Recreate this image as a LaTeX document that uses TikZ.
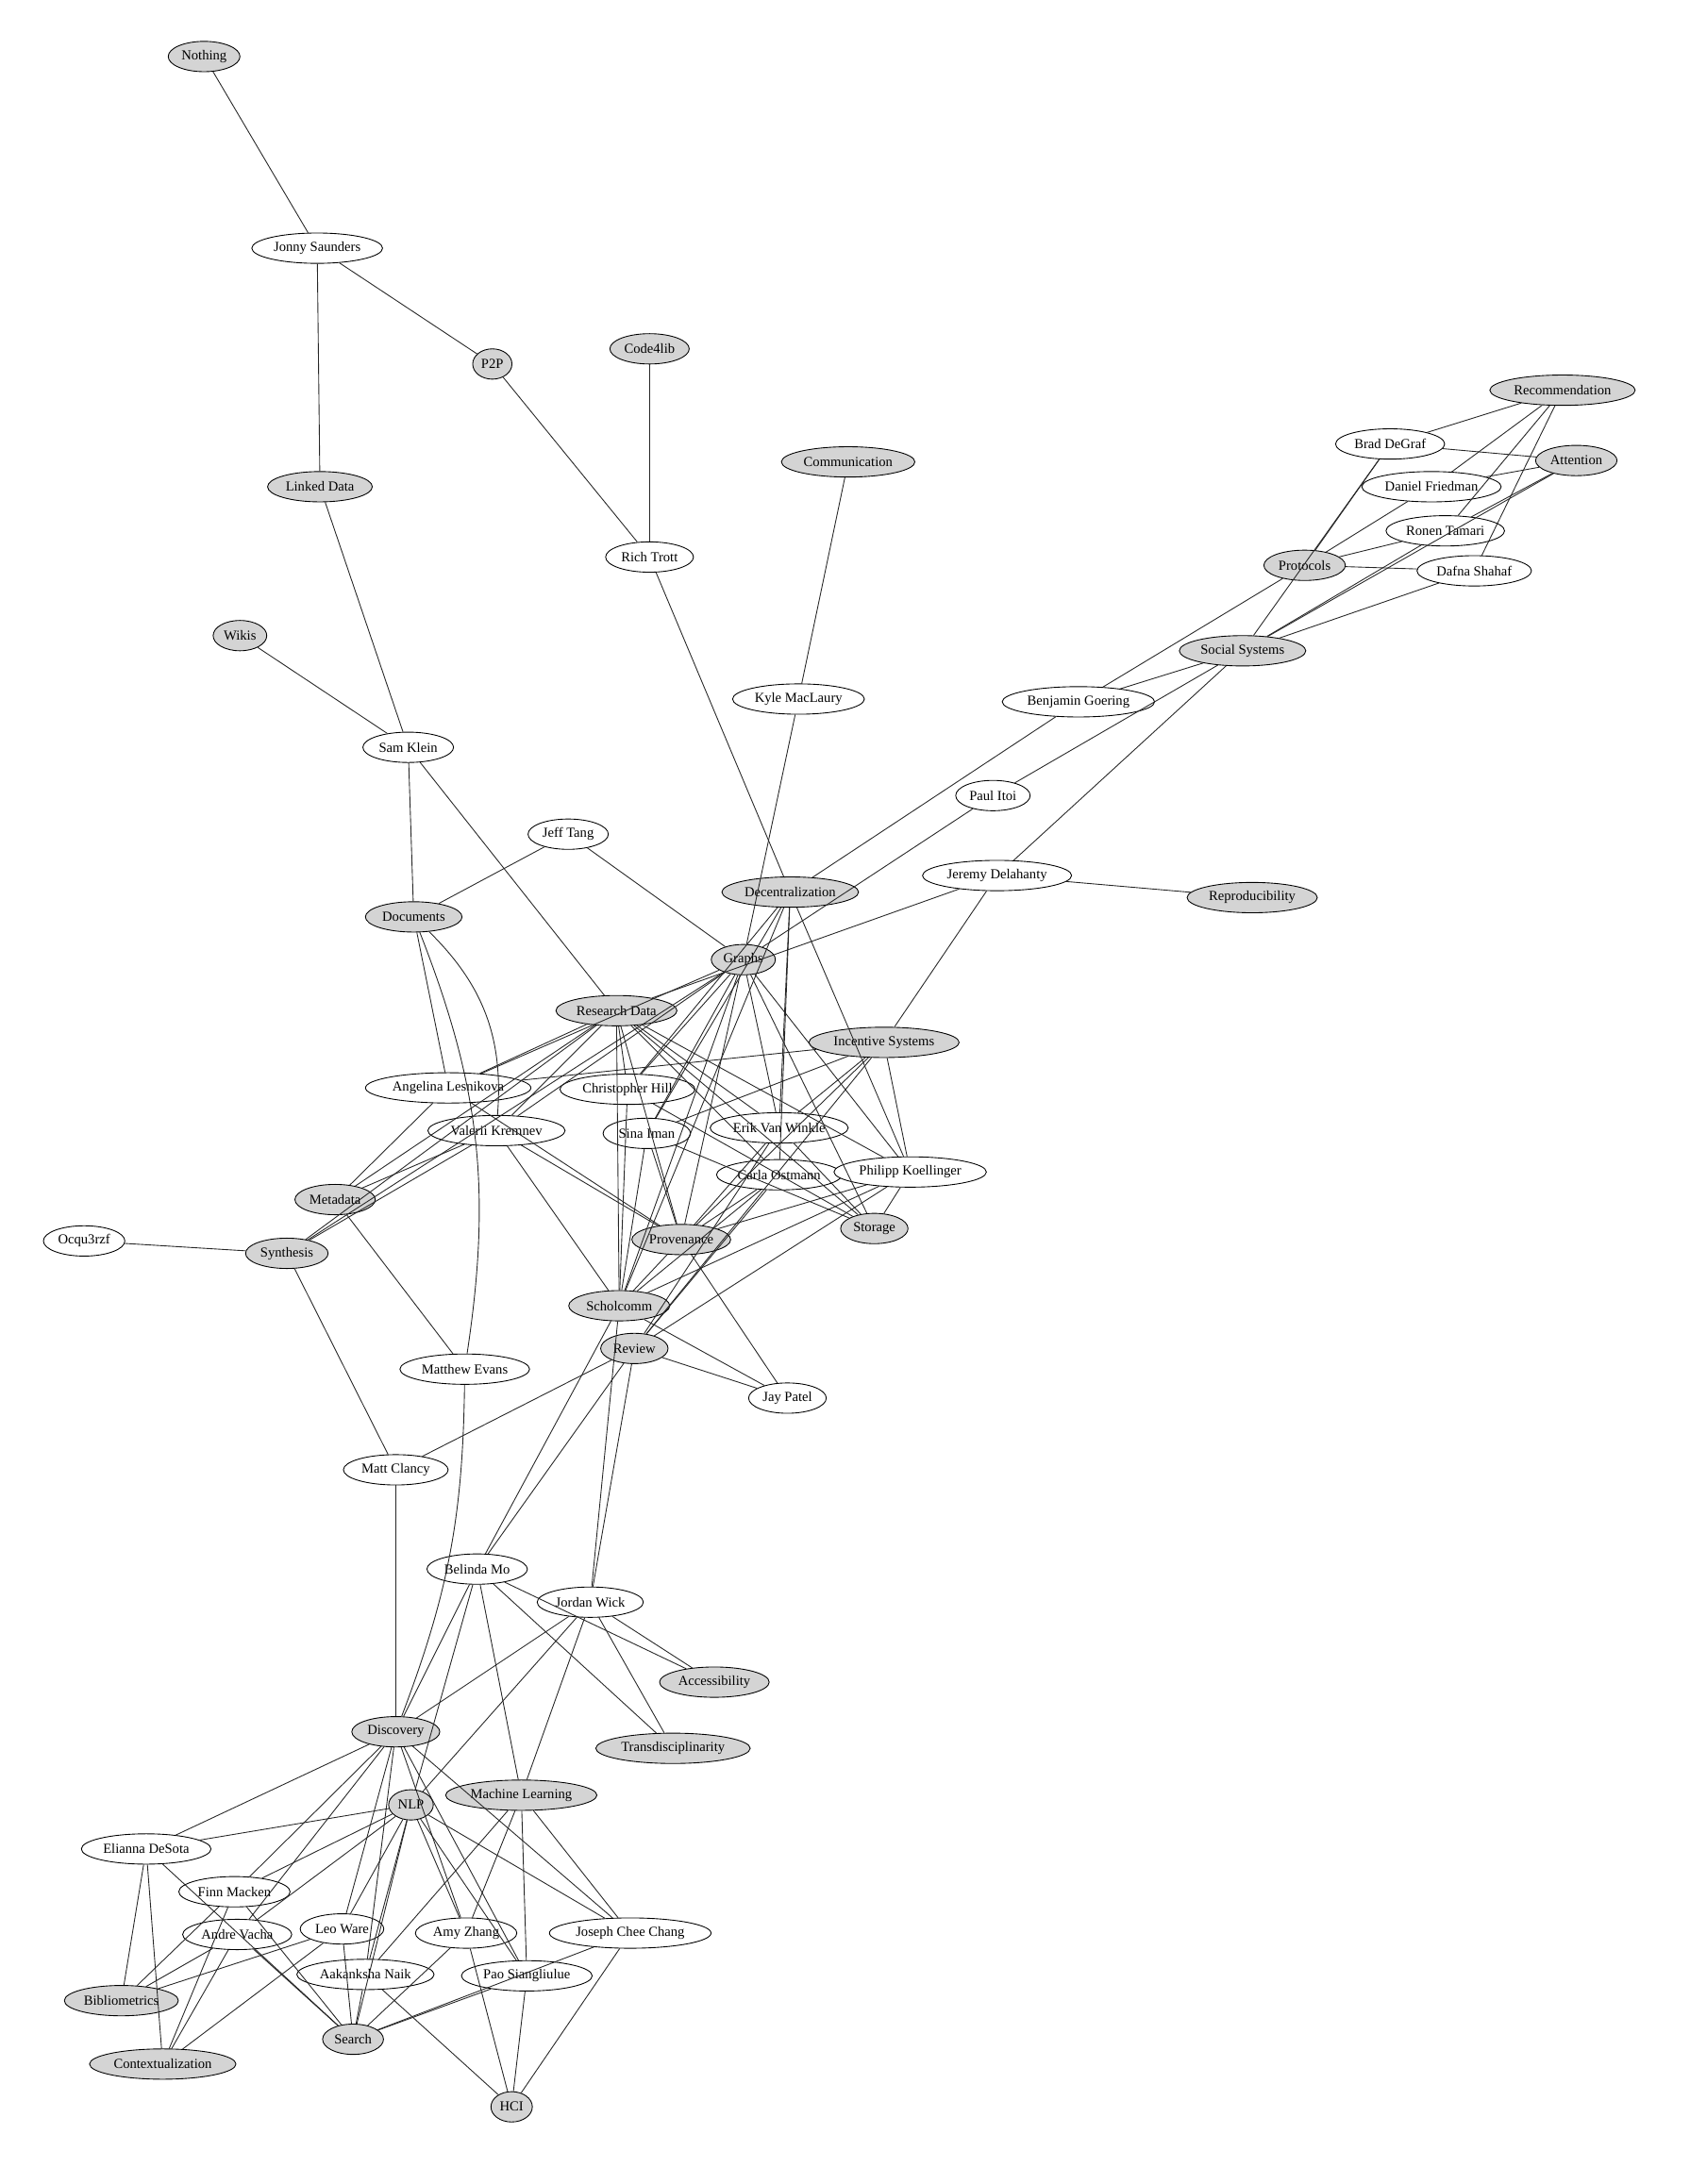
\documentclass[tikz,border=0pt]{standalone}
\usepackage{fontspec}
\setmainfont{Liberation Serif}
\usetikzlibrary{shapes.geometric}
\tikzset{
 nd/.style={ellipse,draw,line width=0.6pt,minimum height=22pt,inner xsep=2pt,inner ysep=0pt,font=\fontsize{10}{12}\selectfont},
 pp/.style={nd,fill=white},
 tp/.style={nd,fill=black!17},
 ed/.style={line width=0.6pt,black!85}
}
\begin{document}
\begin{tikzpicture}[x=1pt,y=-1pt]
\useasboundingbox (0,0) rectangle (1225,1584);
\foreach \n/\x/\y/\s/\t in {
Nothing/148/41/tp/Nothing, Jonny/230/180/pp/Jonny Saunders, P2P/357/264/tp/P2P, Code/471/253/tp/Code4lib,
Linked/232/353/tp/Linked Data, Comm/615/335/tp/Communication, Rich/471/404/pp/Rich Trott,
Recom/1133/283/tp/Recommendation, Brad/1008/322/pp/Brad DeGraf, Attn/1143/334/tp/Attention,
Daniel/1038/353/pp/Daniel Friedman, Ronen/1048/385/pp/Ronen Tamari, Prot/946/410/tp/Protocols,
Dafna/1069/414/pp/Dafna Shahaf, Wikis/174/461/tp/Wikis, Social/901/472/tp/Social Systems,
Kyle/579/507/pp/Kyle MacLaury, Benj/782/509/pp/Benjamin Goering, Sam/296/542/pp/Sam Klein,
Paul/720/577/pp/Paul Itoi, Jeff/412/605/pp/Jeff Tang, Dec/573/647/tp/Decentralization,
Jeremy/723/635/pp/Jeremy Delahanty, Repro/908/651/tp/Reproducibility, Docs/300/665/tp/Documents,
Graphs/539/696/tp/Graphs, RD/447/733/tp/Research Data, Inc/641/756/tp/Incentive Systems,
Ang/325/789/pp/Angelina Lesnikova, Chris/455/790/pp/Christopher Hill, Val/360/820/pp/Valerii Kremnev,
Sina/469/822/pp/Sina Iman, Erik/565/818/pp/Erik Van Winkle, Carla/565/852/pp/Carla Ostmann,
Phil/660/850/pp/Philipp Koellinger, Meta/243/870/tp/Metadata, Ocq/61/900/pp/Ocqu3rzf,
Syn/208/909/tp/Synthesis, Prov/494/899/tp/Provenance, Stor/634/891/tp/Storage,
Scho/449/947/tp/Scholcomm, Rev/460/978/tp/Review, Mev/337/993/pp/Matthew Evans,
Jay/571/1014/pp/Jay Patel, Mcl/287/1066/pp/Matt Clancy, Bel/346/1138/pp/Belinda Mo,
Jor/428/1162/pp/Jordan Wick, Acc/518/1220/tp/Accessibility, Disc/287/1256/tp/Discovery,
Trans/488/1268/tp/Transdisciplinarity, NLP/298/1309/tp/NLP, ML/378/1302/tp/Machine Learning,
Eli/106/1341/pp/Elianna DeSota, Finn/170/1372/pp/Finn Macken, Leo/248/1399/pp/Leo Ware,
Andre/172/1403/pp/Andre Vacha, Amy/338/1402/pp/Amy Zhang, Jos/457/1402/pp/Joseph Chee Chang,
Aak/265/1432/pp/Aakanksha Naik, Pao/382/1433/pp/Pao Siangliulue, Bib/88/1451/tp/Bibliometrics,
Search/256/1479/tp/Search, Ctx/118/1497/tp/Contextualization, HCI/371/1528/tp/HCI}
  \node[\s] (\n) at (\x,\y) {\t};
\foreach \a/\b in {
Nothing/Jonny, Jonny/P2P, Jonny/Linked, P2P/Rich, Code/Rich, Rich/Dec, Comm/Kyle, Kyle/Graphs,
Linked/Sam, Wikis/Sam, Sam/Docs, Sam/RD, Jeff/Docs, Jeff/Graphs,
Recom/Brad, Recom/Daniel, Recom/Dafna, Recom/Ronen, Brad/Attn, Brad/Prot, Brad/Social, Daniel/Prot, Daniel/Attn,
Ronen/Attn, Ronen/Prot, Dafna/Prot, Dafna/Social, Attn/Social, Ronen/Social,
Prot/Benj, Social/Benj, Social/Paul, Social/Jeremy, Benj/Dec, Paul/Graphs, Jeremy/Repro, Jeremy/Inc, Jeremy/RD,
Docs/Ang, Dec/Chris, Dec/Sina, Dec/Erik, Dec/Phil, Dec/Scho, Dec/Carla,
Graphs/Ang, Graphs/Val, Graphs/Syn, Graphs/Chris, Graphs/Sina, Graphs/Erik, Graphs/Phil, Graphs/Prov, Graphs/Scho, Graphs/Stor,
RD/Ang, RD/Val, RD/Chris, RD/Erik, RD/Carla, RD/Phil, RD/Stor, RD/Prov, RD/Scho, RD/Meta, RD/Syn,
Inc/Ang, Inc/Sina, Inc/Erik, Inc/Phil, Inc/Prov, Inc/Rev,
Ang/Meta, Ang/Prov, Val/Meta, Val/Syn, Val/Prov, Val/Scho,
Chris/Stor, Chris/Scho, Sina/Prov, Sina/Scho, Sina/Stor, Erik/Prov, Erik/Stor, Erik/Rev,
Carla/Prov, Carla/Scho, Carla/Rev, Phil/Prov, Phil/Scho, Phil/Rev, Phil/Stor,
Meta/Mev, Ocq/Syn, Syn/Mcl, Prov/Jay, Prov/Scho, Scho/Jay, Rev/Jay, Rev/Mcl, Rev/Bel, Rev/Jor, Scho/Bel, Scho/Jor,
Mcl/Disc, Bel/Acc, Bel/Trans, Bel/Disc, Bel/NLP, Bel/ML, Jor/Acc, Jor/Trans, Jor/Disc, Jor/NLP, Jor/ML,
Disc/Eli, Disc/Finn, Disc/Andre, Disc/Leo, Disc/Amy, Disc/Jos, Disc/Aak, Disc/Pao,
NLP/Eli, NLP/Finn, NLP/Andre, NLP/Leo, NLP/Amy, NLP/Jos, NLP/Aak, NLP/Pao, NLP/Search,
ML/Amy, ML/Jos, ML/Aak, ML/Pao,
Eli/Bib, Eli/Ctx, Eli/Search, Finn/Bib, Finn/Ctx, Finn/Search, Andre/Bib, Andre/Ctx, Andre/Search,
Leo/Bib, Leo/Ctx, Leo/Search, Amy/Search, Amy/HCI, Jos/Search, Jos/HCI, Aak/Search, Aak/HCI, Pao/Search, Pao/HCI}
  \draw[ed] (\a) -- (\b);
\draw[ed] (Docs) to[bend left=25] (Val);
\draw[ed] (Docs) to[bend left=15] (Mev);
\draw[ed] (Mev) to[bend left=10] (Disc);
\end{tikzpicture}
\end{document}
